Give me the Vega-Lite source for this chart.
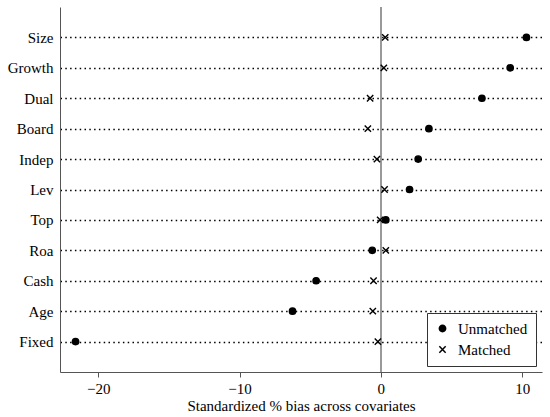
{
  "$schema": "https://vega.github.io/schema/vega-lite/v6.json",
  "autosize": {"type": "none"},
  "padding": {"left": 60, "top": 7, "right": 8, "bottom": 45},
  "width": 482,
  "height": 365,
  "config": {
    "view": {"stroke": null},
    "font": "Liberation Serif",
    "text": {"font": "Liberation Serif"},
    "axis": {"labelFont": "Liberation Serif", "titleFont": "Liberation Serif", "labelColor": "black", "titleColor": "black"},
    "legend": {"labelFont": "Liberation Serif", "labelColor": "black"}
  },
  "data": {
    "values": [
      {"var": "Size", "group": "Unmatched", "bias": 10.3},
      {"var": "Growth", "group": "Unmatched", "bias": 9.15},
      {"var": "Dual", "group": "Unmatched", "bias": 7.15},
      {"var": "Board", "group": "Unmatched", "bias": 3.4},
      {"var": "Indep", "group": "Unmatched", "bias": 2.64},
      {"var": "Lev", "group": "Unmatched", "bias": 2.03},
      {"var": "Top", "group": "Unmatched", "bias": 0.35},
      {"var": "Roa", "group": "Unmatched", "bias": -0.61},
      {"var": "Cash", "group": "Unmatched", "bias": -4.58},
      {"var": "Age", "group": "Unmatched", "bias": -6.25},
      {"var": "Fixed", "group": "Unmatched", "bias": -21.6},
      {"var": "Size", "group": "Matched", "bias": 0.31},
      {"var": "Growth", "group": "Matched", "bias": 0.21},
      {"var": "Dual", "group": "Matched", "bias": -0.76},
      {"var": "Board", "group": "Matched", "bias": -0.92},
      {"var": "Indep", "group": "Matched", "bias": -0.28},
      {"var": "Lev", "group": "Matched", "bias": 0.26},
      {"var": "Top", "group": "Matched", "bias": -0.05},
      {"var": "Roa", "group": "Matched", "bias": 0.35},
      {"var": "Cash", "group": "Matched", "bias": -0.52},
      {"var": "Age", "group": "Matched", "bias": -0.57},
      {"var": "Fixed", "group": "Matched", "bias": -0.21}
    ]
  },
  "layer": [
    {
      "mark": {"type": "rule", "color": "#999999", "strokeWidth": 1},
      "encoding": {"x": {"datum": 0, "type": "quantitative"}}
    },
    {
      "mark": {"type": "point", "filled": true, "color": "black", "stroke": "black", "strokeWidth": 1.4, "opacity": 1},
      "encoding": {
        "x": {
          "field": "bias",
          "type": "quantitative",
          "title": "Standardized % bias across covariates",
          "scale": {"domain": [-22.7, 11.4], "nice": false, "zero": false},
          "axis": {
            "values": [-20, -10, 0, 10],
            "grid": false,
            "domainColor": "#555555",
            "tickColor": "#555555",
            "tickSize": 5,
            "labelFont": "Liberation Serif",
            "titleFont": "Liberation Serif",
            "labelFontSize": 15,
            "labelPadding": 4,
            "titleFontSize": 15,
            "titleFontWeight": "normal",
            "titlePadding": 2
          }
        },
        "y": {
          "field": "var",
          "type": "nominal",
          "title": null,
          "sort": ["Size", "Growth", "Dual", "Board", "Indep", "Lev", "Top", "Roa", "Cash", "Age", "Fixed"],
          "scale": {"type": "point", "padding": 1},
          "axis": {
            "ticks": false,
            "domainColor": "#555555",
            "labelFont": "Liberation Serif",
            "labelFontSize": 15,
            "labelPadding": 7,
            "grid": true,
            "gridColor": "black",
            "gridDash": [1.5, 3.3],
            "gridWidth": 1.4,
            "gridOpacity": 1
          }
        },
        "shape": {
          "field": "group",
          "type": "nominal",
          "scale": {"domain": ["Unmatched", "Matched"], "range": ["circle", "M-1,-1L1,1M-1,1L1,-1"]},
          "legend": {
            "title": null,
            "orient": "bottom-right",
            "offset": 6,
            "fillColor": "white",
            "strokeColor": "#333333",
            "padding": 8,
            "labelFont": "Liberation Serif",
            "labelFontSize": 15,
            "symbolSize": 40,
            "rowPadding": 5,
            "labelOffset": 8,
            "encode": {
              "symbols": {
                "update": {
                  "fill": {"value": "black"},
                  "stroke": {"value": "black"},
                  "strokeWidth": {"value": 1.4},
                  "opacity": {"value": 1}
                }
              }
            }
          }
        },
        "size": {"value": 40}
      }
    }
  ]
}
